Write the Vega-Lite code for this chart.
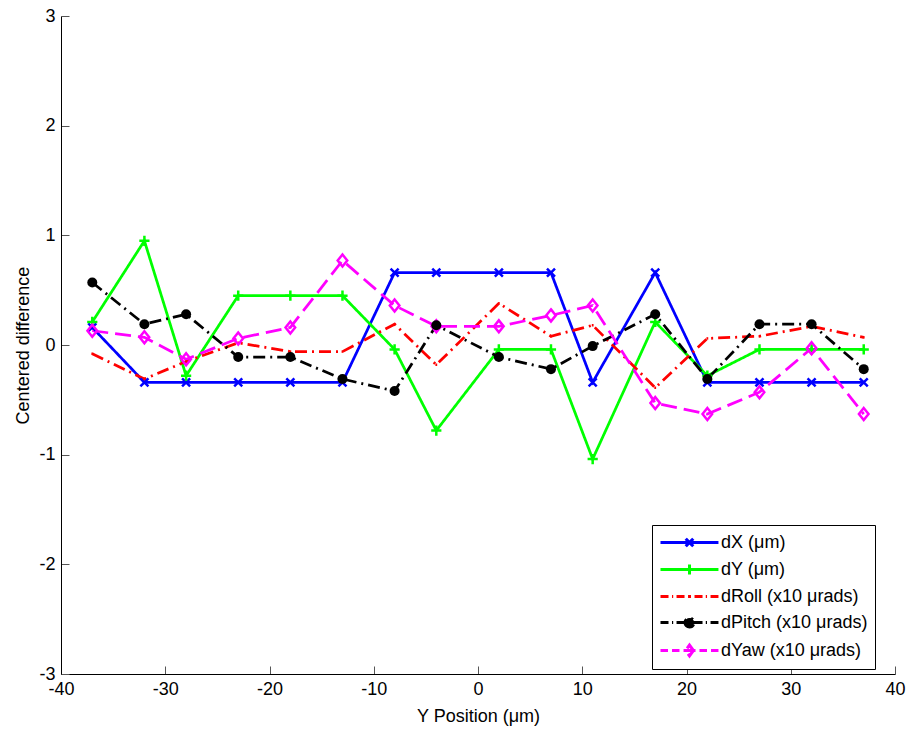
{
  "$schema": "https://vega.github.io/schema/vega-lite/v6.json",
  "width": 834,
  "height": 658,
  "autosize": {"type": "none"},
  "padding": {"left": 61, "top": 16, "right": 16, "bottom": 56},
  "background": "white",
  "config": {
    "view": {"stroke": null},
    "font": "Liberation Sans",
    "axis": {
      "grid": false,
      "domainColor": "black",
      "domainWidth": 1,
      "tickColor": "#555555",
      "tickSize": -8,
      "tickWidth": 1,
      "labelFont": "Liberation Sans",
      "labelFontSize": 18,
      "labelColor": "black",
      "labelPadding": 14,
      "labelFlush": false,
      "labelOverlap": false,
      "labelExpr": "toString(datum.value)",
      "titleFont": "Liberation Sans",
      "titleFontSize": 18,
      "titleFontWeight": "normal",
      "titleColor": "black"
    }
  },
  "data": {
    "values": [
      {"x": -37, "series": "dX (μm)", "value": 0.16},
      {"x": -32, "series": "dX (μm)", "value": -0.34},
      {"x": -28, "series": "dX (μm)", "value": -0.34},
      {"x": -23, "series": "dX (μm)", "value": -0.34},
      {"x": -18, "series": "dX (μm)", "value": -0.34},
      {"x": -13, "series": "dX (μm)", "value": -0.34},
      {"x": -8, "series": "dX (μm)", "value": 0.66},
      {"x": -4, "series": "dX (μm)", "value": 0.66},
      {"x": 2, "series": "dX (μm)", "value": 0.66},
      {"x": 7, "series": "dX (μm)", "value": 0.66},
      {"x": 11, "series": "dX (μm)", "value": -0.34},
      {"x": 17, "series": "dX (μm)", "value": 0.66},
      {"x": 22, "series": "dX (μm)", "value": -0.34},
      {"x": 27, "series": "dX (μm)", "value": -0.34},
      {"x": 32, "series": "dX (μm)", "value": -0.34},
      {"x": 37, "series": "dX (μm)", "value": -0.34},

      {"x": -37, "series": "dY (μm)", "value": 0.21},
      {"x": -32, "series": "dY (μm)", "value": 0.95},
      {"x": -28, "series": "dY (μm)", "value": -0.28},
      {"x": -23, "series": "dY (μm)", "value": 0.45},
      {"x": -18, "series": "dY (μm)", "value": 0.45},
      {"x": -13, "series": "dY (μm)", "value": 0.45},
      {"x": -8, "series": "dY (μm)", "value": -0.04},
      {"x": -4, "series": "dY (μm)", "value": -0.78},
      {"x": 2, "series": "dY (μm)", "value": -0.04},
      {"x": 7, "series": "dY (μm)", "value": -0.04},
      {"x": 11, "series": "dY (μm)", "value": -1.04},
      {"x": 17, "series": "dY (μm)", "value": 0.21},
      {"x": 22, "series": "dY (μm)", "value": -0.28},
      {"x": 27, "series": "dY (μm)", "value": -0.04},
      {"x": 32, "series": "dY (μm)", "value": -0.04},
      {"x": 37, "series": "dY (μm)", "value": -0.04},

      {"x": -37, "series": "dRoll (x10 μrads)", "value": -0.08},
      {"x": -32, "series": "dRoll (x10 μrads)", "value": -0.31},
      {"x": -28, "series": "dRoll (x10 μrads)", "value": -0.15},
      {"x": -23, "series": "dRoll (x10 μrads)", "value": 0.02},
      {"x": -18, "series": "dRoll (x10 μrads)", "value": -0.06},
      {"x": -13, "series": "dRoll (x10 μrads)", "value": -0.06},
      {"x": -8, "series": "dRoll (x10 μrads)", "value": 0.19},
      {"x": -4, "series": "dRoll (x10 μrads)", "value": -0.18},
      {"x": 2, "series": "dRoll (x10 μrads)", "value": 0.38},
      {"x": 7, "series": "dRoll (x10 μrads)", "value": 0.08},
      {"x": 11, "series": "dRoll (x10 μrads)", "value": 0.18},
      {"x": 17, "series": "dRoll (x10 μrads)", "value": -0.39},
      {"x": 22, "series": "dRoll (x10 μrads)", "value": 0.06},
      {"x": 27, "series": "dRoll (x10 μrads)", "value": 0.08},
      {"x": 32, "series": "dRoll (x10 μrads)", "value": 0.17},
      {"x": 37, "series": "dRoll (x10 μrads)", "value": 0.07},

      {"x": -37, "series": "dPitch (x10 μrads)", "value": 0.57},
      {"x": -32, "series": "dPitch (x10 μrads)", "value": 0.19},
      {"x": -28, "series": "dPitch (x10 μrads)", "value": 0.28},
      {"x": -23, "series": "dPitch (x10 μrads)", "value": -0.11},
      {"x": -18, "series": "dPitch (x10 μrads)", "value": -0.11},
      {"x": -13, "series": "dPitch (x10 μrads)", "value": -0.31},
      {"x": -8, "series": "dPitch (x10 μrads)", "value": -0.42},
      {"x": -4, "series": "dPitch (x10 μrads)", "value": 0.18},
      {"x": 2, "series": "dPitch (x10 μrads)", "value": -0.11},
      {"x": 7, "series": "dPitch (x10 μrads)", "value": -0.22},
      {"x": 11, "series": "dPitch (x10 μrads)", "value": -0.01},
      {"x": 17, "series": "dPitch (x10 μrads)", "value": 0.28},
      {"x": 22, "series": "dPitch (x10 μrads)", "value": -0.31},
      {"x": 27, "series": "dPitch (x10 μrads)", "value": 0.19},
      {"x": 32, "series": "dPitch (x10 μrads)", "value": 0.19},
      {"x": 37, "series": "dPitch (x10 μrads)", "value": -0.22},

      {"x": -37, "series": "dYaw (x10 μrads)", "value": 0.13},
      {"x": -32, "series": "dYaw (x10 μrads)", "value": 0.07},
      {"x": -28, "series": "dYaw (x10 μrads)", "value": -0.13},
      {"x": -23, "series": "dYaw (x10 μrads)", "value": 0.06},
      {"x": -18, "series": "dYaw (x10 μrads)", "value": 0.16},
      {"x": -13, "series": "dYaw (x10 μrads)", "value": 0.77},
      {"x": -8, "series": "dYaw (x10 μrads)", "value": 0.36},
      {"x": -4, "series": "dYaw (x10 μrads)", "value": 0.17},
      {"x": 2, "series": "dYaw (x10 μrads)", "value": 0.17},
      {"x": 7, "series": "dYaw (x10 μrads)", "value": 0.27},
      {"x": 11, "series": "dYaw (x10 μrads)", "value": 0.36},
      {"x": 17, "series": "dYaw (x10 μrads)", "value": -0.53},
      {"x": 22, "series": "dYaw (x10 μrads)", "value": -0.63},
      {"x": 27, "series": "dYaw (x10 μrads)", "value": -0.43},
      {"x": 32, "series": "dYaw (x10 μrads)", "value": -0.03},
      {"x": 37, "series": "dYaw (x10 μrads)", "value": -0.63}
    ]
  },
  "layer": [
    {
      "mark": {"type": "line", "strokeWidth": 2.75},
      "encoding": {
        "x": {
          "field": "x", "type": "quantitative",
          "scale": {"domain": [-40, 40], "nice": false},
          "axis": {"title": "Y Position (μm)", "titlePadding": 9, "values": [-40, -30, -20, -10, 0, 10, 20, 30, 40]}
        },
        "y": {
          "field": "value", "type": "quantitative",
          "scale": {"domain": [-3, 3], "nice": false},
          "axis": {"title": "Centered difference", "titlePadding": 6, "values": [-3, -2, -1, 0, 1, 2, 3]}
        },
        "color": {
          "field": "series", "type": "nominal",
          "scale": {
            "domain": ["dX (μm)", "dY (μm)", "dRoll (x10 μrads)", "dPitch (x10 μrads)", "dYaw (x10 μrads)"],
            "range": ["#0000ff", "#00ff00", "#ff0000", "#000000", "#ff00ff"]
          },
          "legend": {
            "orient": "none",
            "legendX": 591,
            "legendY": 509,
            "title": null,
            "strokeColor": "black",
            "fillColor": "white",
            "padding": 7,
            "labelFont": "Liberation Sans",
            "labelFontSize": 18,
            "labelColor": "black",
            "labelOffset": 41,
            "labelLimit": 400,
            "rowPadding": 5,
            "symbolSize": 324,
            "symbolStrokeWidth": 3,
            "symbolType": "stroke",
            "encode": {
              "symbols": {
                "update": {
                  "shape": {"signal": "datum.value === 'dX (μm)' ? 'M-1,0H5.44M1.8,-0.42L2.64,0.42M1.8,0.42L2.64,-0.42' : datum.value === 'dY (μm)' ? 'M-1,0H5.44M2.22,-0.55V0.55' : datum.value === 'dRoll (x10 μrads)' ? 'M-1,0H-0.11M0.28,0H0.41M0.78,0H1.67M2.06,0H2.39M2.78,0H3.67M4.03,0H4.17M4.56,0H5.44' : datum.value === 'dPitch (x10 μrads)' ? 'M-1,0H-0.11M0.28,0H0.41M0.78,0H1.67M2.78,0H3.67M4.03,0H4.17M4.56,0H5.44M1.6,0H2.84M1.72,0A0.5,0.5 0 1,0 2.72,0A0.5,0.5 0 1,0 1.72,0M1.92,0A0.3,0.3 0 1,0 2.52,0A0.3,0.3 0 1,0 1.92,0M2.1,0A0.12,0.12 0 1,0 2.34,0A0.12,0.12 0 1,0 2.1,0' : 'M-1,0H-0.17M0.28,0H1.11M1.56,0H2.89M3.33,0H4.17M4.61,0H5.44M2.22,-0.61L2.66,0L2.22,0.61L1.78,0Z'"},
                  "fill": {"signal": "datum.value === 'dPitch (x10 μrads)' ? 'black' : 'transparent'"},
                  "opacity": {"value": 1}
                }
              }
            }
          }
        },
        "strokeDash": {
          "field": "series", "type": "nominal",
          "scale": {
            "domain": ["dX (μm)", "dY (μm)", "dRoll (x10 μrads)", "dPitch (x10 μrads)", "dYaw (x10 μrads)"],
            "range": [[1, 0], [1, 0], [12, 5, 2, 5], [12, 5, 2, 5], [16, 7]]
          },
          "legend": null
        }
      }
    },
    {
      "transform": [{"filter": "datum.series !== 'dPitch (x10 μrads)'"}],
      "mark": {"type": "point", "filled": false, "strokeWidth": 2.5, "size": 144, "opacity": 1},
      "encoding": {
        "x": {"field": "x", "type": "quantitative"},
        "y": {"field": "value", "type": "quantitative"},
        "shape": {
          "field": "series", "type": "nominal",
          "scale": {
            "domain": ["dX (μm)", "dY (μm)", "dRoll (x10 μrads)", "dYaw (x10 μrads)"],
            "range": [
              "M-0.67,-0.67L0.67,0.67M-0.67,0.67L0.67,-0.67",
              "M-0.85,0H0.85M0,-0.85V0.85",
              "M-0.15,0H0.15",
              "M0,-1L0.8,0L0,1L-0.8,0Z"
            ]
          },
          "legend": null
        },
        "stroke": {
          "field": "series", "type": "nominal",
          "scale": {
            "domain": ["dX (μm)", "dY (μm)", "dRoll (x10 μrads)", "dYaw (x10 μrads)"],
            "range": ["#0000ff", "#00ff00", "#ff0000", "#ff00ff"]
          },
          "legend": null
        }
      }
    },
    {
      "transform": [{"filter": "datum.series === 'dPitch (x10 μrads)'"}],
      "mark": {"type": "point", "filled": true, "shape": "circle", "size": 100, "color": "black", "opacity": 1},
      "encoding": {
        "x": {"field": "x", "type": "quantitative"},
        "y": {"field": "value", "type": "quantitative"}
      }
    }
  ]
}
